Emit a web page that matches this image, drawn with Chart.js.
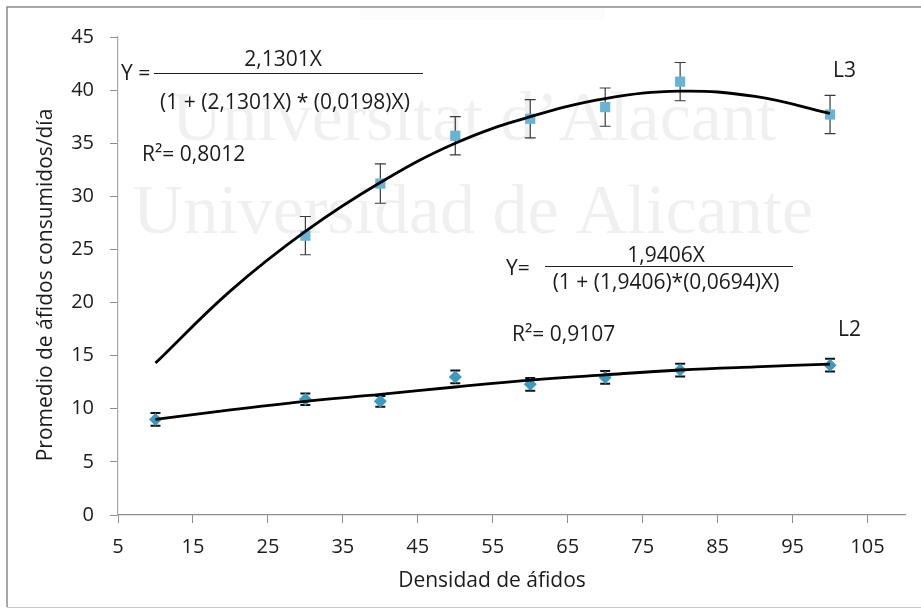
<!DOCTYPE html>
<html><head><meta charset="utf-8">
<script src="https://cdn.jsdelivr.net/npm/chart.js@4/dist/chart.umd.min.js"></script>
<style>html,body{margin:0;padding:0;background:#fff}#wrap{width:921px;height:610px}canvas{display:block}</style>
</head><body><div id="wrap"><canvas id="c" width="921" height="610"></canvas></div>
<script>
// ---- data ----
const densidad = [10, 30, 40, 50, 60, 70, 80, 100];          // L2 sampled densities
const l3X = [30, 40, 50, 60, 70, 80, 100];                    // L3 sampled densities
const l3Mean = [26.3, 31.2, 35.7, 37.3, 38.4, 40.8, 37.7];
const l3Err = [1.8, 1.85, 1.8, 1.8, 1.8, 1.8, 1.8];
const l2Mean = [9.0, 10.9, 10.7, 13.0, 12.3, 12.95, 13.65, 14.1];
const l2Err = [0.6, 0.55, 0.5, 0.6, 0.6, 0.6, 0.6, 0.6];
const fitX = [10, 20, 30, 40, 50, 60, 70, 80, 90, 100];
const l3Fit = [14.3, 21.1, 26.7, 31.3, 35.0, 37.5, 39.2, 39.9, 39.4, 37.8];
const l2Fit = [9.0, 9.9, 10.7, 11.35, 12.05, 12.7, 13.2, 13.65, 13.95, 14.2];
const xTicks = [5, 15, 25, 35, 45, 55, 65, 75, 85, 95, 105];
const yTicks = [0, 5, 10, 15, 20, 25, 30, 35, 40, 45];
const xTitle = 'Densidad de áfidos';
const yTitle = 'Promedio de áfidos consumidos/día';

const FONT = '"Open Sans", "DejaVu Sans", sans-serif';
const TXT = '#1c1c1c';
const AXIS = '#8e8e8e';

const pts = (xs, ys) => xs.map((x, i) => ({x: x, y: ys[i]}));

const errorBars = {
  id: 'errorBars',
  beforeDatasetsDraw(chart) {
    const {ctx, scales: {x, y}} = chart;
    ctx.save();
    ctx.strokeStyle = '#3a3a3a';
    ctx.lineWidth = 1.2;
    l3X.forEach((v, i) => {
      const px = x.getPixelForValue(v);
      const top = y.getPixelForValue(l3Mean[i] + l3Err[i]);
      const bot = y.getPixelForValue(l3Mean[i] - l3Err[i]);
      ctx.beginPath();
      ctx.moveTo(px, top); ctx.lineTo(px, bot);
      ctx.moveTo(px - 5.5, top); ctx.lineTo(px + 5.5, top);
      ctx.moveTo(px - 5.5, bot); ctx.lineTo(px + 5.5, bot);
      ctx.stroke();
    });
    ctx.strokeStyle = '#111';
    ctx.lineWidth = 2;
    densidad.forEach((v, i) => {
      const px = x.getPixelForValue(v);
      const top = y.getPixelForValue(l2Mean[i] + l2Err[i]);
      const bot = y.getPixelForValue(l2Mean[i] - l2Err[i]);
      ctx.beginPath();
      ctx.moveTo(px, top); ctx.lineTo(px, bot);
      ctx.moveTo(px - 5, top); ctx.lineTo(px + 5, top);
      ctx.moveTo(px - 5, bot); ctx.lineTo(px + 5, bot);
      ctx.stroke();
    });
    ctx.restore();
  }
};

const decor = {
  id: 'decor',
  beforeDraw(chart) {
    const ctx = chart.ctx;
    ctx.save();
    ctx.fillStyle = '#fff';
    ctx.fillRect(0, 0, chart.width, chart.height);
    // faint watermark
    ctx.fillStyle = 'rgba(0,0,0,0.06)';
    ctx.font = '70px "Liberation Serif", "DejaVu Serif", serif';
    ctx.textAlign = 'center';
    ctx.textBaseline = 'alphabetic';
    ctx.fillText('Universitat d\u2019Alacant', 474, 140);
    ctx.fillText('Universidad de Alicante', 473, 233);
    ctx.fillStyle = 'rgba(0,0,0,0.012)';
    ctx.fillRect(360, 8, 245, 12);
    ctx.restore();
  },
  afterDraw(chart) {
    const ctx = chart.ctx;
    ctx.save();
    ctx.strokeStyle = '#8a8a8a';
    ctx.lineWidth = 1.5;
    ctx.beginPath();
    ctx.moveTo(7, 607); ctx.lineTo(7, 7); ctx.lineTo(921, 7);
    ctx.stroke();
    ctx.strokeStyle = '#c8c8c8';
    ctx.lineWidth = 1;
    ctx.beginPath();
    ctx.moveTo(7, 607.5); ctx.lineTo(921, 607.5);
    ctx.stroke();

    ctx.fillStyle = TXT;
    ctx.font = '21px ' + FONT;
    ctx.textAlign = 'center';
    ctx.textBaseline = 'middle';
    ctx.fillText(xTitle, 492, 581);
    ctx.save();
    ctx.translate(46, 285);
    ctx.rotate(-Math.PI / 2);
    ctx.fillText(yTitle, 0, 0);
    ctx.restore();

    // equation L3
    ctx.textAlign = 'left';
    ctx.fillText('Y =', 121, 74);
    ctx.textAlign = 'center';
    ctx.fillText('2,1301X', 283, 60);
    ctx.fillText('(1 + (2,1301X) * (0,0198)X)', 285, 103);
    ctx.textAlign = 'left';
    ctx.fillText('R\u00b2= 0,8012', 142, 155);
    ctx.strokeStyle = '#222';
    ctx.lineWidth = 1.2;
    ctx.beginPath();
    ctx.moveTo(154, 73.5); ctx.lineTo(423, 73.5);
    ctx.stroke();

    // equation L2
    ctx.fillText('Y=', 506, 269);
    ctx.textAlign = 'center';
    ctx.fillText('1,9406X', 666, 256);
    ctx.fillText('(1 + (1,9406)*(0,0694)X)', 666, 283);
    ctx.textAlign = 'left';
    ctx.fillText('R\u00b2= 0,9107', 512, 335);
    ctx.beginPath();
    ctx.moveTo(545, 266.5); ctx.lineTo(793, 266.5);
    ctx.stroke();

    ctx.fillText('L3', 833, 71);
    ctx.fillText('L2', 838, 330);
    ctx.restore();
  }
};

new Chart(document.getElementById('c'), {
  data: {
    datasets: [
      {type: 'line', label: 'L3 ajuste', data: pts(fitX, l3Fit), borderColor: '#000', borderWidth: 2.8,
       pointRadius: 0, tension: 0.4, fill: false, order: 0},
      {type: 'line', label: 'L2 ajuste', data: pts(fitX, l2Fit), borderColor: '#000', borderWidth: 2.8,
       pointRadius: 0, tension: 0.4, fill: false, order: 0},
      {type: 'scatter', label: 'L3', data: pts(l3X, l3Mean), pointStyle: 'rect', pointRadius: 7.2,
       backgroundColor: '#66b4d6', borderWidth: 0, order: 2},
      {type: 'scatter', label: 'L2', data: pts(densidad, l2Mean), pointStyle: 'rectRot', pointRadius: 6.5,
       backgroundColor: '#3b9bbf', borderWidth: 0, order: 2}
    ]
  },
  options: {
    responsive: false,
    animation: false,
    devicePixelRatio: 1,
    layout: {padding: {left: 0, right: 16, top: 37, bottom: 0}},
    plugins: {legend: {display: false}, tooltip: {enabled: false}},
    scales: {
      x: {
        type: 'linear', min: 5, max: 110,
        afterBuildTicks: s => { s.ticks = xTicks.map(v => ({value: v})); },
        afterFit: s => { s.height = 95; },
        grid: {drawOnChartArea: false, drawTicks: true, tickLength: 8, color: AXIS},
        border: {display: true, color: AXIS, width: 1.2},
        ticks: {font: {family: FONT, size: 20}, color: TXT, padding: 12, maxRotation: 0, autoSkip: false}
      },
      y: {
        type: 'linear', min: 0, max: 45,
        afterBuildTicks: s => { s.ticks = yTicks.map(v => ({value: v})); },
        afterFit: s => { s.width = 118; },
        grid: {drawOnChartArea: false, drawTicks: true, tickLength: 8, color: AXIS},
        border: {display: true, color: '#a6a6a6', width: 1.2},
        ticks: {font: {family: FONT, size: 20}, color: TXT, padding: 16, autoSkip: false}
      }
    }
  },
  plugins: [decor, errorBars]
});
</script>
</body></html>
